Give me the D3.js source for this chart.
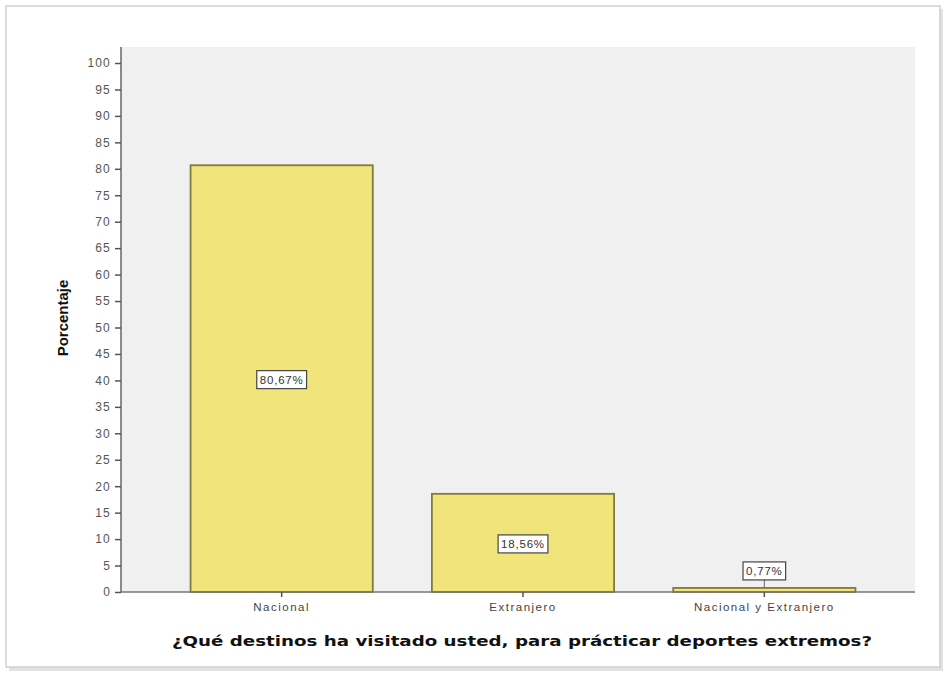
<!DOCTYPE html>
<html>
<head>
<meta charset="utf-8">
<script src="https://cdn.jsdelivr.net/npm/d3@7/dist/d3.min.js"></script>
<style>
  html, body { margin: 0; padding: 0; background: #ffffff; }
  svg { display: block; }
</style>
</head>
<body>
<svg id="chart" width="946" height="684"></svg>
<script>
const categories = ["Nacional", "Extranjero", "Nacional y Extranjero"];
const values = [80.67, 18.56, 0.77];
const valueLabels = ["80,67%", "18,56%", "0,77%"];
const yTicks = [0,5,10,15,20,25,30,35,40,45,50,55,60,65,70,75,80,85,90,95,100];
const yTitle = "Porcentaje";
const xTitle = "¿Qué destinos ha visitado usted, para prácticar deportes extremos?";

const svg = d3.select("#chart");

// outer frame with soft shadow
svg.append("rect").attr("x", 9).attr("y", 9).attr("width", 934).attr("height", 662)
  .attr("fill", "#e2e2e2");
svg.append("rect").attr("x", 6).attr("y", 6).attr("width", 934).attr("height", 661)
  .attr("fill", "#ffffff").attr("stroke", "#cfcfcf").attr("stroke-width", 1.5);

const plot = { left: 121, right: 915, top: 47, bottom: 592 };

const y = d3.scaleLinear().domain([0, 100]).range([592, 63]);
const x = d3.scaleBand().domain(categories).range([161, 885])
  .paddingInner(0.245).paddingOuter(0.1225);

// plot background
svg.append("rect").attr("x", plot.left).attr("y", plot.top)
  .attr("width", plot.right - plot.left).attr("height", plot.bottom - plot.top)
  .attr("fill", "#f0f0f0");

// bars
svg.selectAll("rect.bar").data(values).enter().append("rect")
  .attr("class", "bar")
  .attr("x", (d, i) => x(categories[i]))
  .attr("y", d => y(d))
  .attr("width", x.bandwidth())
  .attr("height", d => y(0) - y(d))
  .attr("fill", "#f1e47b")
  .attr("stroke", "#7f7a3e")
  .attr("stroke-width", 1.8);

// y axis
const yAxis = d3.axisLeft(y).tickValues(yTicks).tickSize(6).tickPadding(4).tickFormat(d3.format("d"));
const gy = svg.append("g").attr("transform", `translate(${plot.left},0)`).call(yAxis);
gy.select(".domain").attr("d", `M0,${plot.top}V${plot.bottom}`).attr("stroke", "#666").attr("stroke-width", 1.5);
gy.selectAll(".tick line").attr("stroke", "#555").attr("stroke-width", 1.5);
gy.selectAll(".tick text").attr("fill", "#555").attr("font-family", "Liberation Sans, Arial, sans-serif")
  .attr("font-size", 12).attr("letter-spacing", "1.2px");

// x axis
const xAxis = d3.axisBottom(x).tickSize(5).tickPadding(4);
const gx = svg.append("g").attr("transform", `translate(0,${plot.bottom})`).call(xAxis);
gx.select(".domain").attr("d", `M${plot.left},0H${plot.right}`).attr("stroke", "#777").attr("stroke-width", 1.5);
gx.selectAll(".tick line").attr("stroke", "#555").attr("stroke-width", 1.5);
gx.selectAll(".tick text").attr("fill", "#444").attr("font-family", "Liberation Sans, Arial, sans-serif")
  .attr("font-size", 11.5).attr("letter-spacing", "1.5px").attr("dy", "0.85em");

// value labels
const labelG = svg.selectAll("g.vlab").data(values).enter().append("g").attr("class", "vlab");
labelG.each(function(d, i) {
  const g = d3.select(this);
  const cx = x(categories[i]) + x.bandwidth() / 2;
  const h = y(0) - y(d);
  let cy = h > 30 ? y(d) + h / 2 + 1 : y(d) - 17;
  const t = g.append("text").attr("x", cx).attr("y", cy).attr("dy", "0.35em")
    .attr("text-anchor", "middle").attr("font-family", "Liberation Sans, Arial, sans-serif")
    .attr("font-size", 11.5).attr("fill", "#333").attr("letter-spacing", "0.8px")
    .text(valueLabels[i]);
  const bb = t.node().getBBox();
  g.insert("rect", "text").attr("x", bb.x - 3).attr("y", cy - 9).attr("width", bb.width + 6).attr("height", 18)
    .attr("fill", "#ffffff").attr("stroke", "#444").attr("stroke-width", 1.2);
  if (h <= 30) {
    g.insert("line", "rect").attr("x1", cx).attr("x2", cx).attr("y1", cy + 9).attr("y2", y(d))
      .attr("stroke", "#666").attr("stroke-width", 1);
  }
});

// y title
svg.append("text").attr("transform", "translate(68,318) rotate(-90)")
  .attr("text-anchor", "middle").attr("font-family", "Liberation Sans, Arial, sans-serif")
  .attr("font-weight", "bold").attr("font-size", 15).attr("fill", "#111")
  .text(yTitle);

// x title
svg.append("text").attr("x", 522).attr("y", 646)
  .attr("text-anchor", "middle").attr("font-family", "DejaVu Sans, Verdana, sans-serif")
  .attr("font-weight", "bold").attr("font-size", 14).attr("fill", "#111")
  .attr("textLength", 700).attr("lengthAdjust", "spacingAndGlyphs")
  .text(xTitle);
</script>
</body>
</html>
